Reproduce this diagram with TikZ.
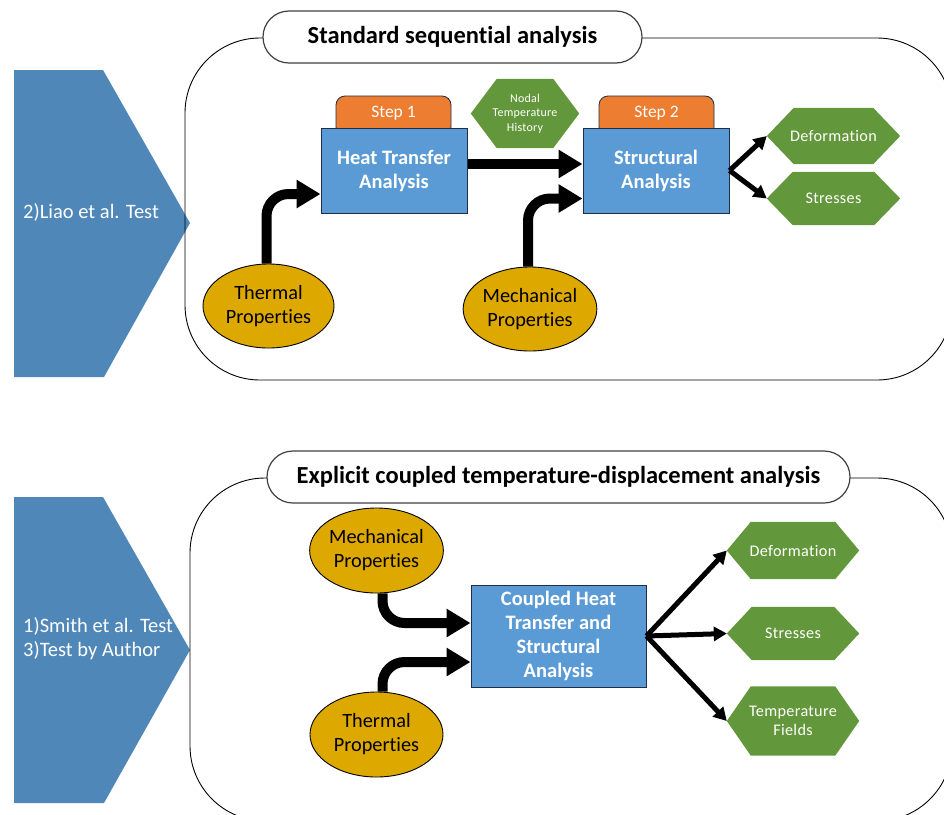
\documentclass[tikz,border=0pt]{standalone}
\usepackage{fontspec}
\setmainfont{Carlito}[Ligatures=NoCommon]
\newfontfamily\hexfont{Carlito}[Ligatures=NoCommon,LetterSpace=2]
\usetikzlibrary{arrows.meta,calc,shapes.geometric}

\definecolor{chevblue}{RGB}{79,135,185}
\definecolor{boxblue}{RGB}{91,155,213}
\definecolor{boxedge}{RGB}{32,44,72}
\definecolor{taborange}{RGB}{237,125,49}
\definecolor{hexgreen}{RGB}{98,152,59}
\definecolor{propgold}{RGB}{221,168,0}
\definecolor{pilledge}{RGB}{64,64,64}

\pgfdeclarelayer{bg}
\pgfsetlayers{bg,main}

% hexagon body behind a named node: #1 node, #2 corner inset
\newcommand\hexbody[2]{%
  \begin{pgfonlayer}{bg}
    \fill[hexgreen] (#1.west) -- ([xshift=#2]#1.north west) -- ([xshift=-#2]#1.north east)
      -- (#1.east) -- ([xshift=-#2]#1.south east) -- ([xshift=#2]#1.south west) -- cycle;
  \end{pgfonlayer}}

\begin{document}
\begin{tikzpicture}[x=1pt,y=-1pt,
  frame/.style={draw=black,line width=0.9pt,rounded corners=75pt},
  pill/.style={draw=pilledge,line width=1.2pt,fill=white,rounded corners=26pt,
    minimum height=52pt,inner sep=0pt,font=\bfseries\fontsize{24.5}{28}\selectfont},
  tab/.style={draw=boxedge,line width=0.8pt,fill=taborange,rounded corners=9pt,
    minimum width=115pt,minimum height=40pt,inner sep=0pt},
  steplabel/.style={text=white,inner sep=0pt,font=\fontsize{17.5}{20}\selectfont},
  proc/.style={draw=boxedge,line width=1pt,fill=boxblue,inner sep=0pt,text=white,
    align=center,font=\bfseries\fontsize{20.5}{24}\selectfont},
  prop/.style={ellipse,draw=black,line width=0.9pt,fill=propgold,inner sep=0pt,
    align=center,font=\fontsize{20.3}{24}\selectfont},
  hexnode/.style={rectangle,inner sep=0pt,text=white,align=center,
    font=\hexfont\fontsize{16.2}{19}\selectfont},
  chevlabel/.style={text=white,align=left,inner sep=0pt,anchor=west,
    font=\fontsize{20.5}{24}\selectfont},
  fat/.style={line width=10pt,rounded corners=22pt,
    -{Triangle[length=24pt 0 0,width=27pt 0 0]}},
  slim/.style={line width=5pt,-{Triangle[length=13pt 0 0,width=14pt 0 0]}}
]
\useasboundingbox (0,0) rectangle (944,814);
\begin{pgfonlayer}{bg}
  \fill[white] (0,0) rectangle (944,814);
\end{pgfonlayer}

% ---------- sequential analysis ----------
\fill[chevblue] (14,70) -- (103,70) -- (190,223) -- (104,377) -- (14,377) -- cycle;
\node[chevlabel] (liao) at (23,212) {2)Liao et al. Test};

\draw[frame] (185,38) rectangle (952,380);
\node[pill,minimum width=379pt] (seqtitle) at (452.5,37) {Standard sequential analysis};

\node[tab] (step1) at (393.5,116) {};
\node[tab] (step2) at (656.5,116) {};
\node[steplabel] at (393.5,113) {Step 1};
\node[steplabel] at (656.5,113) {Step 2};

\node[proc,minimum width=146pt,minimum height=85pt] (heat) at (394,170.5)
  {Heat Transfer\\Analysis};
\node[proc,minimum width=146pt,minimum height=85pt] (struct) at (656,170.5)
  {Structural\\Analysis};

\node[hexnode,minimum width=108pt,minimum height=69pt,
  font=\hexfont\fontsize{12}{14.5}\selectfont] (nodal) at (525,113.5)
  {Nodal\\Temperature\\History};
\hexbody{nodal}{26pt}
\node[hexnode,minimum width=133pt,minimum height=56pt] (defo1) at (833.5,136) {Deformation};
\hexbody{defo1}{27pt}
\node[hexnode,minimum width=133pt,minimum height=53pt] (stress1) at (833.5,198.5) {Stresses};
\hexbody{stress1}{26pt}

\node[prop,minimum width=131pt,minimum height=84pt] (therm1) at (268.5,306)
  {Thermal\\Properties};
\node[prop,minimum width=132pt,minimum height=84pt] (mech1) at (530,309)
  {Mechanical\\Properties};

\draw[fat] ([xshift=-2pt]therm1.north) |- ([yshift=-23.5pt]heat.west);
\draw[fat] ([yshift=6.5pt]heat.east) -- ([yshift=6.5pt]struct.west);
\draw[fat] ([xshift=-2pt]mech1.north) |- ([yshift=-28pt]struct.west);
\draw[slim] (struct.east) -- (defo1.west);
\draw[slim] (struct.east) -- (stress1.west);

% ---------- coupled analysis ----------
\fill[chevblue] (14,497) -- (103,497) -- (190,650) -- (104,803) -- (14,803) -- cycle;
\node[chevlabel] (tests) at (23,639) {1)Smith et al. Test\\3)Test by Author};

\draw[frame] (190,478) rectangle (952,821);
\node[pill,minimum width=583pt] (cpltitle) at (558.5,477)
  {Explicit coupled temperature-displacement analysis};

\node[prop,minimum width=133pt,minimum height=85pt] (mech2) at (376.5,550.5)
  {Mechanical\\Properties};
\node[prop,minimum width=133pt,minimum height=85pt] (therm2) at (376.5,734.5)
  {Thermal\\Properties};

\node[proc,minimum width=175pt,minimum height=102pt] (coupled) at (558.5,636)
  {Coupled Heat\\Transfer and\\Structural\\Analysis};

\node[hexnode,minimum width=132pt,minimum height=57pt] (defo2) at (793,550.5) {Deformation};
\hexbody{defo2}{24pt}
\node[hexnode,minimum width=132pt,minimum height=53pt] (stress2) at (793,633.5) {Stresses};
\hexbody{stress2}{25pt}
\node[hexnode,minimum width=132pt,minimum height=69pt] (tempf) at (793,721)
  {Temperature\\Fields};
\hexbody{tempf}{24pt}

\draw[fat] ([xshift=6pt]mech2.south) |- ([yshift=13pt]coupled.west);
\draw[fat] ([xshift=6pt]therm2.north) |- ([yshift=-26pt]coupled.west);
\draw[slim] (coupled.east) -- (defo2.west);
\draw[slim] (coupled.east) -- (stress2.west);
\draw[slim] (coupled.east) -- (tempf.west);
\end{tikzpicture}
\end{document}
